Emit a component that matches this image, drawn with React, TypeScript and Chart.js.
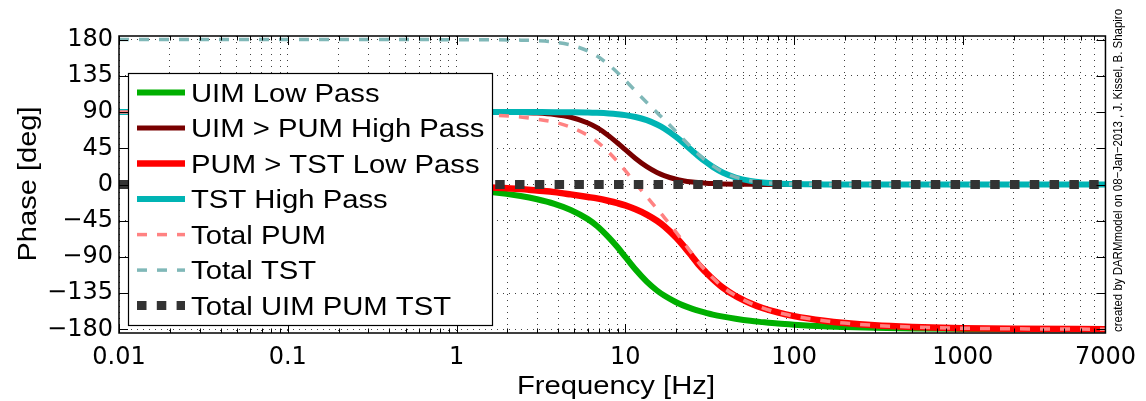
import React, { useEffect, useRef } from 'react';
import { Chart, registerables } from 'chart.js';

Chart.register(...registerables);

// ---- data ----
const frequencies = [0.01, 0.1, 0.5, 1, 1.6, 2.4, 3, 3.8, 4.75, 6, 6.8, 8, 9, 10, 11.5, 13.4, 15.4, 17, 20, 22, 25, 27, 30, 33, 38, 45, 55, 65, 80, 100, 150, 200, 300, 500, 1000, 2000, 7000];

const uimLowPass = [0, -0.6, -2.9, -5.8, -9.3, -14.3, -18.3, -24, -31.6, -43, -51.6, -66, -78, -90, -105.7, -120.7, -131.7, -138, -146.3, -150.2, -154.5, -156.8, -159.4, -161.6, -164.2, -166.8, -169.4, -171, -172.8, -174.2, -176.2, -177.1, -178.1, -178.9, -179.4, -179.7, -179.9];

const uimPumHighPass = [90, 90, 90, 89.97, 89.86, 89.4, 88.7, 87, 83.6, 76.5, 70.6, 60.4, 51.6, 43.2, 32.3, 22.1, 14.9, 11, 6.5, 4.7, 3.06, 2.36, 1.62, 1.16, 0.7, 0.39, 0.2, 0.1, 0, 0, 0, 0, 0, 0, 0, 0, 0];

const pumTstLowPass = [0, -0.2, -1.1, -2.3, -3.7, -5.5, -7.5, -9.5, -12.3, -15.5, -17.3, -20.5, -23.2, -26, -30.8, -37.3, -45, -51.8, -65.8, -75.6, -90, -98.8, -109, -117.5, -128.5, -138.5, -147.5, -153.5, -159, -163.5, -169.3, -172.2, -175, -177, -178.6, -179.3, -179.8];

const tstHighPass = [90, 90, 90, 90, 90, 89.97, 89.95, 89.9, 89.7, 89.4, 89, 88.2, 87.3, 86.2, 83.9, 79.9, 74.6, 69.6, 59.1, 51.9, 41.7, 35.6, 28, 21.9, 14.6, 8.7, 4.5, 2.5, 1.2, 0.55, 0.13, 0.04, 0, 0, 0, 0, 0];

const totalPum = [90, 89.8, 88.9, 87.7, 86.2, 83.9, 81.2, 77.5, 71.3, 61, 53.3, 39.9, 28.4, 17.2, 1.5, -15.2, -30.1, -40.8, -59.3, -70.9, -86.9, -96.4, -107.4, -116.3, -127.8, -138.1, -147.3, -153.4, -159, -163.5, -169.3, -172.2, -175, -177, -178.6, -179.3, -179.8];

const totalTst = [180, 180, 180, 179.97, 179.86, 179.37, 178.65, 176.9, 173.3, 165.9, 159.6, 148.6, 138.9, 129.4, 116.2, 102, 89.5, 80.6, 65.6, 56.6, 44.8, 38, 29.6, 23.1, 15.3, 9.1, 4.7, 2.6, 1.2, 0.55, 0.13, 0.04, 0, 0, 0, 0, 0];

const totalUimPumTst = [0, 0, 0, 0, 0, 0, 0, 0, 0, 0, 0, 0, 0, 0, 0, 0, 0, 0, 0, 0, 0, 0, 0, 0, 0, 0, 0, 0, 0, 0, 0, 0, 0, 0, 0, 0, 0];

const seriesLabels = ['UIM Low Pass', 'UIM > PUM High Pass', 'PUM > TST Low Pass', 'TST High Pass', 'Total PUM', 'Total TST', 'Total UIM PUM TST'];

const xTickValues = [0.01, 0.1, 1, 10, 100, 1000, 7000];
const xTickLabels = ['0.01', '0.1', '1', '10', '100', '1000', '7000'];
const yTickValues = [-180, -135, -90, -45, 0, 45, 90, 135, 180];
const yTickLabels = ['\u2212180', '\u2212135', '\u221290', '\u221245', '0', '45', '90', '135', '180'];

const xTitle = 'Frequency [Hz]';
const yTitle = 'Phase [deg]';
const credits = 'created by DARMmodel on 08\u2212Jan\u22122013 , J. Kissel, B. Shapiro';

// ---- styles ----
const seriesValues = [uimLowPass, uimPumHighPass, pumTstLowPass, tstHighPass, totalPum, totalTst, totalUimPumTst];
const seriesStyles = [
  { color: 'rgb(0,175,0)', width: 6, dash: [] as number[] },
  { color: 'rgb(120,0,0)', width: 5, dash: [] as number[] },
  { color: 'rgb(255,0,0)', width: 6.5, dash: [] as number[] },
  { color: 'rgb(0,180,180)', width: 6, dash: [] as number[] },
  { color: 'rgb(255,130,130)', width: 3.5, dash: [10, 10] },
  { color: 'rgb(128,184,184)', width: 3.5, dash: [10, 10] },
  { color: 'rgb(51,51,51)', width: 9, dash: [9.5, 10.3] },
];

const SANS = '"Liberation Sans", Arial, Helvetica, sans-serif';

function drawFitted(ctx: CanvasRenderingContext2D, text: string, x: number, y: number, width: number, font: string, rotate = 0) {
  ctx.save();
  ctx.font = font;
  const w = ctx.measureText(text).width;
  ctx.translate(x, y);
  if (rotate) ctx.rotate(rotate);
  ctx.scale(width / w, 1);
  ctx.textAlign = 'center';
  ctx.textBaseline = 'alphabetic';
  ctx.fillStyle = '#000';
  ctx.fillText(text, 0, 0);
  ctx.restore();
}

const decorPlugin = {
  id: 'decor',
  afterDatasetsDraw(chart: any) {
    const ctx: CanvasRenderingContext2D = chart.ctx;
    const { left, right, top, bottom } = chart.chartArea;
    const xs = chart.scales.x;
    const ys = chart.scales.y;

    // inward tick marks
    ctx.save();
    ctx.strokeStyle = '#000';
    ctx.lineWidth = 1;
    for (const t of xs.ticks) {
      const isMajor = xTickValues.some((v) => Math.abs(t.value - v) / v < 1e-9);
      const len = isMajor ? 9 : 4.5;
      const px = Math.round(xs.getPixelForValue(t.value)) + 0.5;
      ctx.beginPath();
      ctx.moveTo(px, bottom);
      ctx.lineTo(px, bottom - len);
      ctx.moveTo(px, top);
      ctx.lineTo(px, top + len);
      ctx.stroke();
    }
    for (const v of yTickValues) {
      const py = Math.round(ys.getPixelForValue(v)) + 0.5;
      ctx.beginPath();
      ctx.moveTo(left, py);
      ctx.lineTo(left + 9, py);
      ctx.moveTo(right, py);
      ctx.lineTo(right - 9, py);
      ctx.stroke();
    }
    // frame
    ctx.lineWidth = 1.5;
    ctx.strokeRect(left, top, right - left, bottom - top);
    ctx.restore();

    // legend
    const lx = left + 9;
    const ly = top + 37;
    const lw = 364;
    const lh = 252;
    ctx.save();
    ctx.fillStyle = '#fff';
    ctx.fillRect(lx, ly, lw, lh);
    ctx.strokeStyle = '#000';
    ctx.lineWidth = 1.2;
    ctx.strokeRect(lx + 0.5, ly + 0.5, lw, lh);
    seriesLabels.forEach((label, i) => {
      const cy = ly + 19.6 + i * 35.5;
      const st = seriesStyles[i];
      ctx.save();
      ctx.strokeStyle = st.color;
      ctx.lineWidth = st.width;
      ctx.lineCap = 'butt';
      ctx.setLineDash(st.dash);
      ctx.beginPath();
      ctx.moveTo(lx + 9, cy);
      ctx.lineTo(lx + 57, cy);
      ctx.stroke();
      ctx.restore();
      ctx.save();
      ctx.font = `25px ${SANS}`;
      ctx.fillStyle = '#000';
      ctx.textBaseline = 'alphabetic';
      ctx.textAlign = 'left';
      ctx.translate(lx + 63, cy + 9);
      ctx.scale(1.17, 1);
      ctx.fillText(label, 0, 0);
      ctx.restore();
    });
    ctx.restore();
  },
  afterDraw(chart: any) {
    const ctx: CanvasRenderingContext2D = chart.ctx;
    drawFitted(ctx, xTitle, 616, 394, 198, `25px ${SANS}`);
    drawFitted(ctx, yTitle, 36, 184, 155, `26px ${SANS}`, -Math.PI / 2);
    drawFitted(ctx, credits, 1121.5, 170.5, 323, `12.5px ${SANS}`, -Math.PI / 2);
  },
};

function isMajorX(v: number) {
  return xTickValues.findIndex((m) => Math.abs(v - m) / m < 1e-9);
}

export default function App() {
  const ref = useRef<HTMLCanvasElement>(null);
  useEffect(() => {
    document.body.style.margin = '0';
    const canvas = ref.current!;
    const datasets = seriesLabels.map((label, i) => ({
      label,
      data: frequencies.map((f, j) => ({ x: f, y: seriesValues[i][j] })),
      borderColor: seriesStyles[i].color,
      backgroundColor: seriesStyles[i].color,
      borderWidth: seriesStyles[i].width,
      borderDash: seriesStyles[i].dash,
      borderCapStyle: 'butt' as const,
      pointRadius: 0,
      cubicInterpolationMode: 'monotone' as const,
      fill: false,
      order: seriesLabels.length - 1 - i,
    }));
    const chart = new Chart(canvas, {
      type: 'line',
      data: { datasets },
      plugins: [decorPlugin],
      options: {
        animation: false,
        responsive: false,
        devicePixelRatio: 1,
        layout: { padding: { top: 36, right: 35, left: 0, bottom: 0 } },
        plugins: { legend: { display: false }, tooltip: { enabled: false } },
        scales: {
          x: {
            type: 'logarithmic',
            bounds: 'data',
            min: 0.01,
            max: 7000,
            afterBuildTicks: (scale: any) => {
              const ticks: { value: number }[] = [];
              for (let e = -2; e <= 2; e++) {
                for (let m = 1; m <= 9; m++) ticks.push({ value: m * Math.pow(10, e) });
              }
              for (let m = 1; m <= 7; m++) ticks.push({ value: m * 1000 });
              scale.ticks = ticks;
            },
            afterFit: (scale: any) => {
              scale.height = 68;
            },
            grid: { color: 'rgba(0,0,0,0.75)', lineWidth: 1, drawTicks: false },
            border: { display: false, dash: [1, 5] },
            ticks: {
              autoSkip: false,
              maxRotation: 0,
              minRotation: 0,
              padding: 10,
              color: '#000',
              font: { family: '"DejaVu Sans"', size: 24 },
              callback: (value: any) => {
                const k = isMajorX(Number(value));
                return k >= 0 ? xTickLabels[k] : '';
              },
            },
          },
          y: {
            type: 'linear',
            bounds: 'data',
            min: -184.5,
            max: 184.5,
            afterBuildTicks: (scale: any) => {
              scale.ticks = yTickValues.map((v) => ({ value: v }));
            },
            afterFit: (scale: any) => {
              scale.width = 119;
            },
            grid: { color: 'rgba(0,0,0,0.75)', lineWidth: 1, drawTicks: false },
            border: { display: false, dash: [1, 5] },
            ticks: {
              padding: 6,
              color: '#000',
              font: { family: '"DejaVu Sans"', size: 24 },
              callback: (value: any) => {
                const k = yTickValues.indexOf(Number(value));
                return k >= 0 ? yTickLabels[k] : '';
              },
            },
          },
        },
      },
    } as any);
    return () => chart.destroy();
  }, []);
  return (
    <div style={{ width: 1146, height: 401 }}>
      <canvas ref={ref} width={1146} height={401} style={{ display: 'block' }} />
    </div>
  );
}
